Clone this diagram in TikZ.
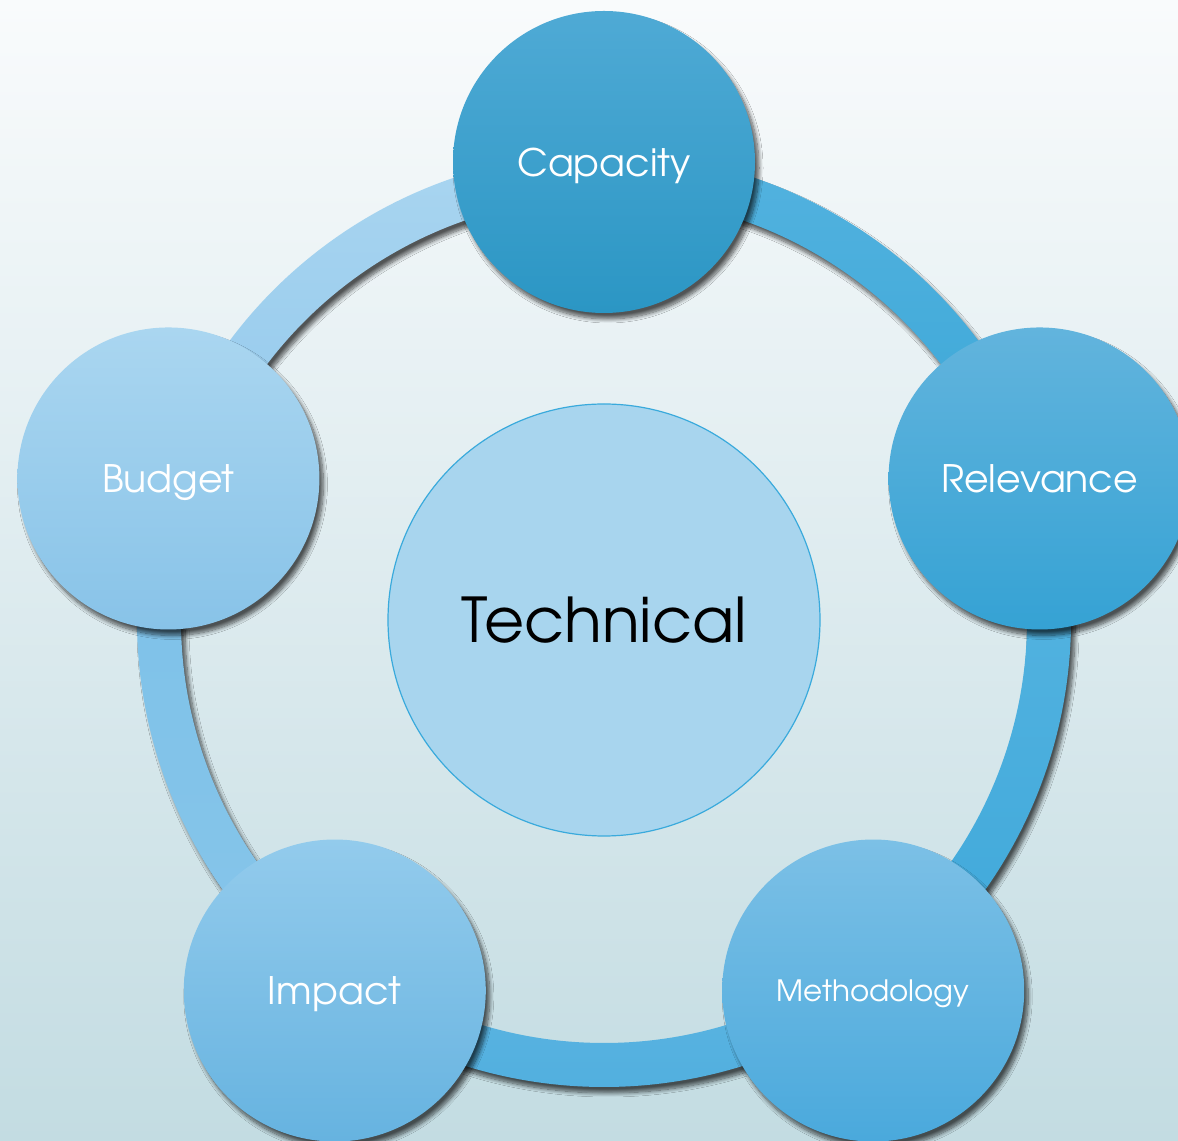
\documentclass[tikz,border=0pt]{standalone}
\usepackage{fontspec}
\newfontfamily\gothic{TeX Gyre Adventor}
\usetikzlibrary{shadows.blur}

\definecolor{bgTop}{HTML}{F9FBFC}
\definecolor{bgBot}{HTML}{C3DCE2}
\definecolor{hubFill}{HTML}{A8D5EE}
\definecolor{hubLine}{HTML}{3AAADC}

\begin{document}
\begin{tikzpicture}[x=1bp,y=1bp,
		soft/.style={blur shadow={shadow xshift=4bp, shadow yshift=-6bp,
			shadow blur radius=4bp, shadow opacity=65, shadow blur steps=10}},
		petal/.style={circle, minimum size=302bp, inner sep=0pt, text depth=0pt,
			text=white, soft},
		band/.style={soft}]
	\clip (0,0) rectangle (1178,1141);
	\shade[top color=bgTop, bottom color=bgBot] (0,0) rectangle (1178,1141);
	\coordinate (hub) at (604,521);
	% ring pieces between neighbouring circles
	\foreach \a/\t/\b in {162/A9D5F0/93C9EC, 90/53B2DF/3AA7D7, 18/58B5E1/3EA8DA,
		-54/5DB5E2/4FAEDE, -126/7DC1E8/86C5EA}{
	\definecolor{segTop}{HTML}{\t}\definecolor{segBot}{HTML}{\b}
	\path[band, shift={(hub)}, top color=segTop, bottom color=segBot]
		(\a:467) arc[start angle=\a, end angle=\a-72, radius=467]
		-- (\a-72:423) arc[start angle=\a-72, end angle=\a, radius=423] -- cycle;
	}
	% middle
	\node[circle, minimum size=432bp, inner sep=0pt, text depth=0pt, fill=hubFill,
		draw=hubLine, line width=1.2bp, font=\gothic\fontsize{62}{64}\selectfont]
		(technical) at (hub) {Technical};
	% outer circles
	\foreach \n/\a/\t/\b/\s/\l in {capacity/90/4FAAD5/2B96C4/38/Capacity,
		relevance/18/62B4DD/35A2D4/38/Relevance,
		methodology/-54/7CC0E6/4AA9DC/29.5/Methodology,
		impact/-126/93CBEC/66B3E0/38/Impact,
		budget/162/AAD6F0/88C3E8/38/Budget}{
	\definecolor{petTop}{HTML}{\t}\definecolor{petBot}{HTML}{\b}
	\node[petal, top color=petTop, bottom color=petBot,
		font=\gothic\fontsize{\s}{\s}\selectfont]
		(\n) at ([shift={(\a:458)}]hub) {\l};
	}
\end{tikzpicture}
\end{document}
